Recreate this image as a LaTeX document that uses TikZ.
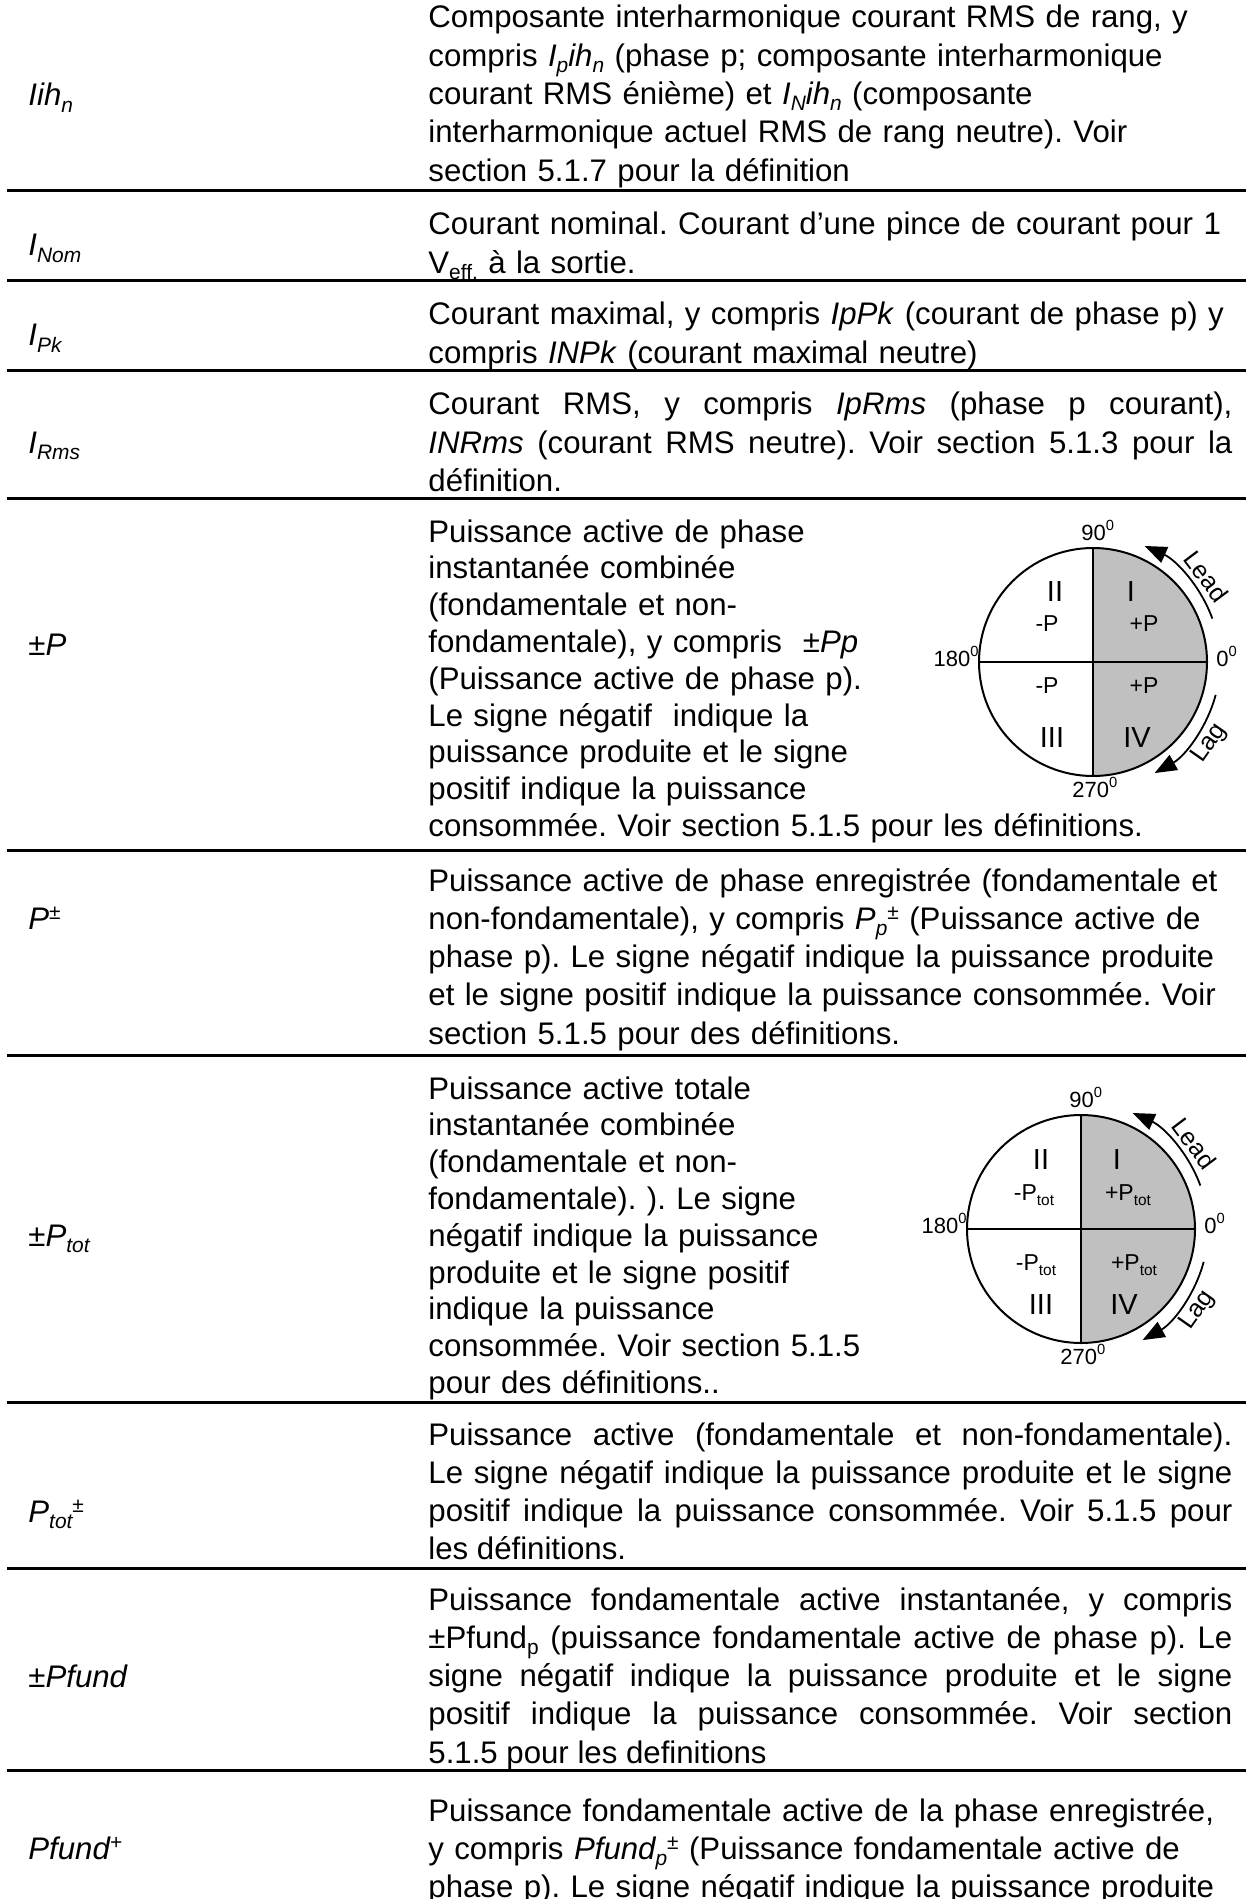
\documentclass[tikz,border=0pt]{standalone}
\usepackage{fontspec}
\setmainfont{Liberation Sans}
\usetikzlibrary{arrows.meta}
\definecolor{quadgray}{RGB}{192,192,192}
\newcommand\subtx[1]{\raisebox{-0.2em}{\scalebox{0.67}{#1}}}
\newcommand\suptx[1]{\raisebox{0.3em}{\scalebox{0.67}{#1}}}
\newcommand\degr{\raisebox{0.45em}{\scalebox{0.67}{0}}}
\frenchspacing

\tikzset{
  desc/.style={anchor=base west, inner sep=0pt, text width=420pt, align=left,
    font=\fontsize{15.6pt}{19.15pt}\selectfont},
  descjust/.style={desc, text width=402pt, align=justify},
  wrapped/.style={font=\fontsize{15.6pt}{18.4pt}\selectfont},
  lbl/.style={anchor=base west, inner sep=0pt, font=\fontsize{15.6pt}{18pt}\selectfont\itshape},
  rowrule/.style={line width=1.5pt},
  roman/.style={inner sep=0pt, font=\fontsize{14.5pt}{14pt}\selectfont},
  sgn/.style={inner sep=0pt, font=\fontsize{11.5pt}{12pt}\selectfont},
  deg/.style={inner sep=0pt, font=\fontsize{11pt}{12pt}\selectfont},
  turn/.style={inner sep=0pt, font=\fontsize{12.5pt}{13pt}\selectfont},
  lead/.style={line width=0.9pt, -{Triangle[length=11pt,width=8.5pt]}},
}

\begin{document}
\begin{tikzpicture}[x=0.5pt, y=0.5pt]
\useasboundingbox (0,0) rectangle (1246,-1899);

\foreach \y in {191,281,371,498,850,1055,1402,1568,1770}
  \draw[rowrule] (7,-\y) -- (1246,-\y);

\node[lbl] (l1) at (28,-106) {Iih\subtx{n}};
\node[desc] (t1) at (428,-28) {Composante interharmonique courant RMS de rang, y\\
compris \textit{I\subtx{p}ih\subtx{n}} (phase p; composante interharmonique\\
courant RMS énième) et \textit{I\subtx{N}ih\subtx{n}} (composante\\
interharmonique actuel RMS de rang neutre). Voir\\
section 5.1.7 pour la définition};

\node[lbl] (l2) at (28,-256) {I\subtx{Nom}};
\node[desc] (t2) at (428,-235) {Courant nominal. Courant d’une pince de courant pour 1\\
V\subtx{eff.} à la sortie.};

\node[lbl] (l3) at (28,-346) {I\subtx{Pk}};
\node[desc] (t3) at (428,-325) {Courant maximal, y compris \textit{IpPk} (courant de phase p) y\\
compris \textit{INPk} (courant maximal neutre)};

\node[lbl] (l4) at (28,-453) {I\subtx{Rms}};
\node[descjust] (t4) at (428,-415) {Courant RMS, y compris \textit{IpRms} (phase p courant),\linebreak
\textit{INRms} (courant RMS neutre). Voir section 5.1.3 pour la\linebreak
définition.};

\node[lbl] (l5) at (28,-655) {±P};
\node[desc, wrapped] (t5) at (428,-542) {Puissance active de phase\\
instantanée combinée\\
(fondamentale et non-\\
fondamentale), y compris~ \textit{±Pp}\\
(Puissance active de phase p).\\
Le signe négatif~ indique la\\
puissance produite et le signe\\
positif indique la puissance\\
consommée. Voir section 5.1.5 pour les définitions.};

\node[lbl] (l6) at (28,-929) {P\suptx{±}};
\node[desc] (t6) at (428,-891) {Puissance active de phase enregistrée (fondamentale et\\
non-fondamentale), y compris \textit{P\subtx{p}\suptx{±}} (Puissance active de\\
phase p). Le signe négatif indique la puissance produite\\
et le signe positif indique la puissance consommée. Voir\\
section 5.1.5 pour des définitions.};

\node[lbl] (l7) at (28,-1246) {±P\subtx{tot}};
\node[desc, wrapped] (t7) at (428,-1099) {Puissance active totale\\
instantanée combinée\\
(fondamentale et non-\\
fondamentale). ). Le signe\\
négatif indique la puissance\\
produite et le signe positif\\
indique la puissance\\
consommée. Voir section 5.1.5\\
pour des définitions..};

\node[lbl] (l8) at (28,-1522) {P\subtx{tot}\suptx{±}};
\node[descjust] (t8) at (428,-1445) {Puissance active (fondamentale et non-fondamentale).\linebreak
Le signe négatif indique la puissance produite et le signe\linebreak
positif indique la puissance consommée. Voir 5.1.5 pour\linebreak
les définitions.};

\node[lbl] (l9) at (28,-1687) {±Pfund};
\node[descjust] (t9) at (428,-1610) {Puissance fondamentale active instantanée, y compris\linebreak
±Pfund\subtx{p} (puissance fondamentale active de phase p). Le\linebreak
signe négatif indique la puissance produite et le signe\linebreak
positif indique la puissance consommée. Voir section\linebreak
5.1.5 pour les definitions};

\node[lbl] (l10) at (28,-1859) {Pfund\suptx{+}};
\node[desc] (t10) at (428,-1821) {Puissance fondamentale active de la phase enregistrée,\\
y compris \textit{Pfund\subtx{p}\suptx{±}} (Puissance fondamentale active de\\
phase p). Le signe négatif indique la puissance produite};

\coordinate (c1) at (1093,-662);
\coordinate (c2) at (1081,-1229);
\foreach \c in {c1,c2}{
  \fill[quadgray] (\c) -- ++(0,114) arc[start angle=90, end angle=-90, radius=114] -- cycle;
  \draw[line width=1pt] (\c) circle[radius=114];
  \draw[line width=1pt] (\c) ++(0,114) -- ++(0,-228);
  \draw[line width=1pt] (\c) ++(-114,0) -- ++(228,0);
  \draw[lead] (\c) ++(20:127) arc[start angle=20, end angle=66, radius=127];
  \draw[lead] (\c) ++(-15:127) arc[start angle=-15, end angle=-61, radius=127];
  \path (\c) ++(37:142) node[turn, rotate=-53] (lead\c) {Lead};
  \path (\c) ++(-35:142) node[turn, rotate=55] (lag\c) {Lag};
  \path (\c) ++(-12,122) node[deg, anchor=base west] (n\c) {90\degr};
  \path (\c) ++(-114,-4) node[deg, anchor=base east] (w\c) {180\degr};
  \path (\c) ++(123,-4) node[deg, anchor=base west] (e\c) {0\degr};
  \path (\c) ++(-21,-135) node[deg, anchor=base west] (s\c) {270\degr};
}

\node[roman] (c1q2) at (1055,-592) {II};
\node[roman] (c1q1) at (1131,-592) {I};
\node[sgn] (c1m2) at (1047,-624) {-P};
\node[sgn] (c1p1) at (1144,-624) {+P};
\node[sgn] (c1m3) at (1047,-686) {-P};
\node[sgn] (c1p4) at (1144,-686) {+P};
\node[roman] (c1q3) at (1052,-738) {III};
\node[roman] (c1q4) at (1137,-738) {IV};

\node[roman] (c2q2) at (1041,-1160) {II};
\node[roman] (c2q1) at (1117,-1160) {I};
\node[sgn] (c2m2) at (1034,-1195) {-P\subtx{tot}};
\node[sgn] (c2p1) at (1128,-1195) {+P\subtx{tot}};
\node[sgn] (c2m3) at (1036,-1265) {-P\subtx{tot}};
\node[sgn] (c2p4) at (1134,-1265) {+P\subtx{tot}};
\node[roman] (c2q3) at (1041,-1305) {III};
\node[roman] (c2q4) at (1124,-1305) {IV};
\end{tikzpicture}
\end{document}
